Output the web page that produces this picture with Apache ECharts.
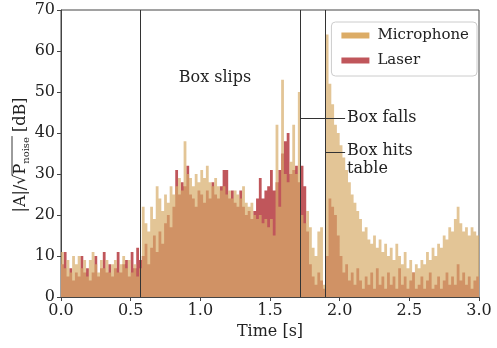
<!DOCTYPE html>
<html><head><meta charset="utf-8">
<script src="https://cdn.jsdelivr.net/npm/echarts@6/dist/echarts.min.js"></script>
<style>html,body{margin:0;padding:0;background:#fff}#c{width:497px;height:348px}</style>
</head><body><div id="c"></div>
<script>
// ---- data (bins of 0.02 s starting at 0 s) ----
const binWidth = 0.02;
const tMax = 3.0;
const microphone = [
  11,7,9,6,10,8,10,7,9,5,9,11,8,6,9,7,9,6,8,9,6,8,10,7,9,6,8,5,7,
  22,18,16,22,19,27,24,21,25,23,27,25,27,29,26,38,30,29,27,30,28,
  31,29,32,28,27,29,27,26,27,25,26,24,26,25,24,27,23,22,23,20,
  19,20,18,19,17,19,15,42,22,53,30,28,33,42,30,50,20,18,21,17,
  12,10,16,17,3,64,52,47,42,40,37,34,31,28,25,23,21,19,16,17,
  14,13,15,12,14,11,13,10,12,9,13,10,8,11,7,9,6,8,7,9,
  8,11,9,12,10,13,12,15,14,17,16,19,22,18,16,17,15,17,16,15
];
const laser = [
  8,11,5,7,4,6,5,10,6,7,4,6,10,5,7,11,6,8,5,7,11,6,8,9,5,11,7,12,9,
  10,13,8,12,15,11,16,13,18,20,17,22,31,25,28,27,32,25,24,22,26,
  25,23,26,24,28,25,24,27,31,31,24,26,23,22,26,22,20,21,19,21,
  24,29,24,26,27,31,26,28,31,35,38,40,30,31,32,28,32,27,16,8,
  5,3,6,4,2,10,24,22,20,15,10,6,8,4,6,3,7,4,2,5,
  3,6,2,7,3,5,2,6,3,5,2,7,3,5,2,4,6,2,3,5,
  2,4,6,2,3,5,2,4,6,3,5,3,8,4,6,3,5,2,4,5
];
const eventTimes = [0.569, 1.722, 1.90];
const annotationTexts = ['Box slips', 'Box falls', 'Box hits\ntable'];
const annotationPos = [[1.105, 53.4], [2.053, 43.7], [2.053, 35.6]];
const connectorFrom = [null, [1.722, 43.7], [1.90, 35.4]];
const connectorTo = [null, [2.039, 43.7], [2.039, 35.4]];
const xTickStep = 0.5, yMax = 70, yTickStep = 10;

const FONT = '"DejaVu Serif"';
const TXT = '#222';
const AX = '#444';

function steps(vals) {
  const pts = vals.map((v, i) => [i * binWidth, v]);
  pts.push([tMax, vals[vals.length - 1]]);
  return pts;
}

const chart = echarts.init(document.getElementById('c'), null, {renderer: 'canvas'});
const axisCommon = {
  axisLine: {show: true, lineStyle: {color: AX, width: 1}},
  axisTick: {show: true, inside: false, length: 4, lineStyle: {color: AX}},
  splitLine: {show: false},
  axisLabel: {fontFamily: FONT, fontSize: 16, color: TXT, margin: 6}
};
const markLines = eventTimes.map(t => ({xAxis: t}));
connectorFrom.forEach((f, i) => { if (f) markLines.push([{coord: f}, {coord: connectorTo[i]}]); });

chart.setOption({
  animation: false,
  grid: {left: 61, right: 18, top: 10, bottom: 51, show: true, borderColor: AX, borderWidth: 1, backgroundColor: 'transparent'},
  xAxis: Object.assign({}, axisCommon, {
    type: 'value', min: 0, max: tMax, interval: xTickStep,
    name: 'Time [s]', nameLocation: 'middle', nameGap: 24,
    nameTextStyle: {fontFamily: FONT, fontSize: 16, color: TXT},
    axisLabel: Object.assign({}, axisCommon.axisLabel, {formatter: v => v.toFixed(1)})
  }),
  yAxis: Object.assign({}, axisCommon, {type: 'value', min: 0, max: yMax, interval: yTickStep}),
  legend: {
    data: [
      {name: 'Microphone', itemStyle: {color: 'rgb(220,172,102)', opacity: 1}},
      {name: 'Laser', itemStyle: {color: 'rgb(192,86,91)', opacity: 1}}
    ],
    orient: 'vertical', right: 20, top: 22, icon: 'rect',
    itemWidth: 28, itemHeight: 6, itemGap: 10,
    padding: [6, 8, 8, 10],
    backgroundColor: 'rgba(255,255,255,0.85)', borderColor: '#ccc', borderWidth: 1, borderRadius: 4,
    textStyle: {fontFamily: FONT, fontSize: 15, color: TXT, padding: [0, 0, 0, 3]}
  },
  series: [
    {type: 'line', name: 'Laser', data: steps(laser), step: 'end', symbol: 'none', silent: true,
     lineStyle: {width: 0}, itemStyle: {color: 'rgb(192,86,91)'},
     areaStyle: {color: 'rgb(192,86,91)', opacity: 1}, z: 2},
    {type: 'line', name: 'Microphone', data: steps(microphone), step: 'end', symbol: 'none', silent: true,
     lineStyle: {width: 0}, itemStyle: {color: 'rgb(215,172,105)'},
     areaStyle: {color: 'rgb(215,172,105)', opacity: 0.7}, z: 3},
    {type: 'line', name: 'events', data: [], z: 5, silent: true,
     markLine: {silent: true, symbol: ['none', 'none'], label: {show: false},
       lineStyle: {color: '#333', width: 1, type: 'solid'}, data: markLines, animation: false}}
  ]
});

// annotations & y-axis label
const ctx = document.createElement('canvas').getContext('2d');
function tw(s, size) { ctx.font = size + 'px ' + FONT; return ctx.measureText(s).width; }
const graphics = [];
annotationTexts.forEach((txt, i) => {
  const p = chart.convertToPixel({gridIndex: 0}, annotationPos[i]);
  const multi = txt.indexOf('\n') >= 0;
  graphics.push({type: 'text', x: p[0], y: multi ? p[1] - 9 : p[1], silent: true, style: {
    text: txt, font: '16px ' + FONT, fill: TXT, lineHeight: 18,
    align: i === 0 ? 'center' : 'left', verticalAlign: multi ? 'top' : 'middle',
    textAlign: i === 0 ? 'center' : 'left', textVerticalAlign: multi ? 'top' : 'middle'}});
});
// y label: |A|/sqrt(P_noise) [dB]
const S = 16, SUB = 10;
const parts = [['|A|/', S, 0], ['\u221A', S, 0], ['P', S, 0], ['noise', SUB, 5], [' [dB]', S, 0]];
const widths = parts.map(p => tw(p[0], p[1]));
const total = widths.reduce((a, b) => a + b, 0);
let cx = -total / 2;
const kids = [];
const xs = [];
parts.forEach((p, i) => {
  xs.push(cx);
  kids.push({type: 'text', x: cx, y: p[2], silent: true, style: {text: p[0], font: p[1] + 'px ' + FONT, fill: TXT,
    align: 'left', verticalAlign: 'middle', textAlign: 'left', textVerticalAlign: 'middle'}});
  cx += widths[i];
});
kids.push({type: 'line', silent: true, shape: {x1: xs[2] - 1, y1: -9, x2: xs[4] + 1, y2: -9}, style: {stroke: TXT, lineWidth: 0.9}});
graphics.push({type: 'group', x: 21, y: 155, rotation: Math.PI / 2, children: kids});
chart.setOption({graphic: graphics});
</script></body></html>
